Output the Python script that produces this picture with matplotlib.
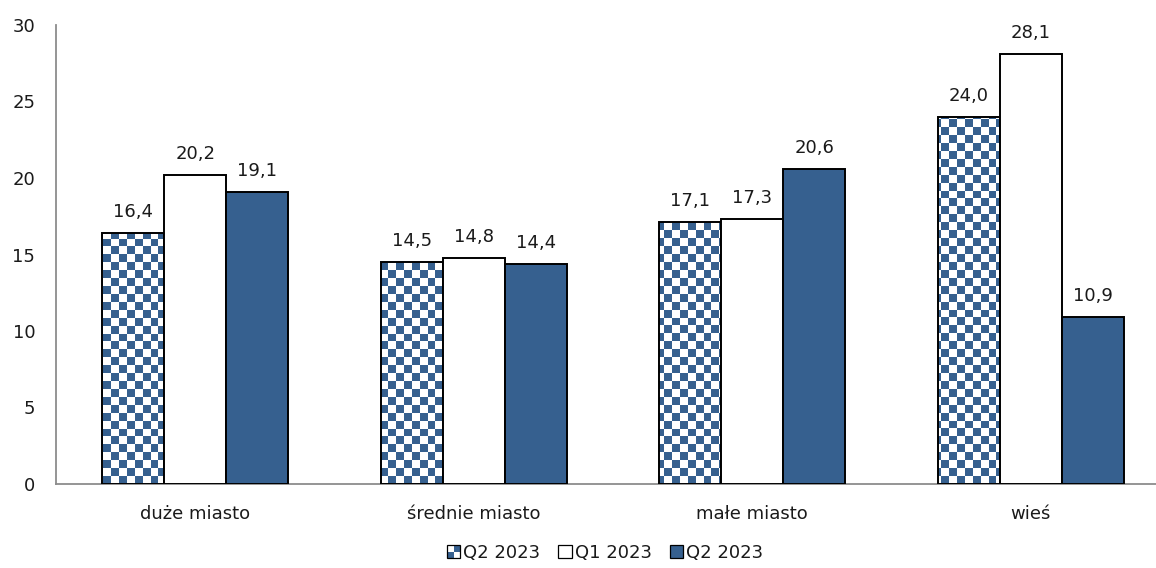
import numpy as np
import matplotlib
matplotlib.use('Agg')
import matplotlib.pyplot as plt
from matplotlib.colors import ListedColormap
from matplotlib.patches import Patch, Rectangle
from matplotlib.legend_handler import HandlerBase

categories = ['duże miasto', 'średnie miasto', 'małe miasto', 'wieś']
series_labels = ['Q2 2023', 'Q1 2023', 'Q2 2023']
checker_vals = [16.4, 14.5, 17.1, 24.0]
white_vals = [20.2, 14.8, 17.3, 28.1]
blue_vals = [19.1, 14.4, 20.6, 10.9]

BLUE = '#36608f'
TEXT = '#1a1a1a'
FS = 13

plt.rcParams['font.family'] = ['DejaVu Sans']


class CheckerHandler(HandlerBase):
    """Legend key drawn as a small 2x2 checkerboard."""
    def create_artists(self, legend, orig_handle, xdescent, ydescent,
                       width, height, fontsize, trans):
        s = height
        x0 = -xdescent + (width - s) / 2
        y0 = -ydescent
        h = s / 2
        out = []
        for i in range(2):
            for j in range(2):
                c = BLUE if (i + j) % 2 == 0 else 'white'
                out.append(Rectangle((x0 + i * h, y0 + j * h), h, h,
                                     facecolor=c, edgecolor='none', transform=trans))
        out.append(Rectangle((x0, y0), s, s, facecolor='none', edgecolor='black',
                             linewidth=0.9, transform=trans))
        return out


fig = plt.figure(figsize=(11.56, 5.68), dpi=100)
ax = fig.add_axes([56 / 1156, 84 / 568, 1114 / 1156, 459 / 568])

x = np.arange(len(categories))
w = 0.2226

# checkerboard bars: outline only, pattern image clipped to each rectangle
bars_chk = ax.bar(x - w, checker_vals, w, facecolor='none', edgecolor='black',
                  linewidth=1.4, zorder=3)
cell = 7.9
rows, cols = int(round(459 / cell)), int(round(1114 / cell))
pattern = np.add.outer(np.arange(rows), np.arange(cols)) % 2
cmap = ListedColormap(['white', BLUE])
for rect in bars_chk:
    im = ax.imshow(pattern, cmap=cmap, extent=(0, 1, 0, 1), transform=ax.transAxes,
                   interpolation='nearest', aspect='auto', zorder=2)
    im.set_clip_path(rect)

bars_w = ax.bar(x, white_vals, w, facecolor='white', edgecolor='black',
                linewidth=1.4, zorder=3)
bars_b = ax.bar(x + w, blue_vals, w, facecolor=BLUE, edgecolor='black',
                linewidth=1.4, zorder=3)

for off, vals in ((-w, checker_vals), (0, white_vals), (w, blue_vals)):
    for xi, v in zip(x + off, vals):
        ax.annotate(f'{v:.1f}'.replace('.', ','), (xi, v), xytext=(0, 11.5),
                    textcoords='offset points', ha='center', va='baseline',
                    fontsize=FS, color=TEXT)

ax.set_xlim(-0.5, len(categories) - 0.5)
ax.set_ylim(0, 30)
ax.set_yticks(range(0, 31, 5))
ax.set_xticks(x)
ax.set_xticklabels(categories)
ax.tick_params(axis='both', length=0, labelsize=FS, labelcolor=TEXT)
ax.tick_params(axis='y', pad=15)
ax.tick_params(axis='x', pad=15)

for side in ('top', 'right'):
    ax.spines[side].set_visible(False)
for side in ('left', 'bottom'):
    ax.spines[side].set_color('#8c8c8c')
    ax.spines[side].set_linewidth(1.3)

handles = [Patch(label='chk'),
           Patch(facecolor='white', edgecolor='black', linewidth=0.9),
           Patch(facecolor=BLUE, edgecolor='black', linewidth=0.9)]
fig.legend(handles, series_labels, loc='center', bbox_to_anchor=(605 / 1156, 1 - 553 / 568),
           ncol=3, frameon=False, fontsize=FS, handlelength=0.75, handleheight=0.75,
           handletextpad=0.15, columnspacing=1.0, labelcolor=TEXT,
           handler_map={handles[0]: CheckerHandler()})

fig.savefig('out.png', dpi=100)
